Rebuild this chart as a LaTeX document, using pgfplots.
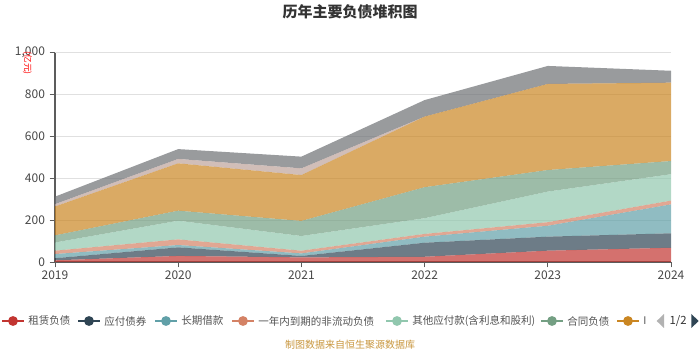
\documentclass[border=0pt]{standalone}
\usepackage{pgfplots}
\pgfplotsset{compat=1.18}
\usepackage{fontspec}
\setmainfont{Noto Sans CJK SC}
\definecolor{c1}{HTML}{C23531}
\definecolor{c2}{HTML}{2F4554}
\definecolor{c3}{HTML}{61A0A8}
\definecolor{c4}{HTML}{D48265}
\definecolor{c5}{HTML}{91C7AE}
\definecolor{c6}{HTML}{749F83}
\definecolor{c7}{HTML}{CA8622}
\definecolor{c8}{HTML}{BDA29A}
\definecolor{c9}{HTML}{6E7074}
\definecolor{txt}{HTML}{333333}
\definecolor{grid}{HTML}{E0E0E0}
\definecolor{src}{HTML}{C8963E}
\begin{document}
\begin{tikzpicture}
\path[use as bounding box] (0,0) rectangle (525pt,262.5pt);
\begin{axis}[
  at={(41.25pt,66pt)}, anchor=south west,
  scale only axis, width=462pt, height=157.1pt,
  xmin=2019, xmax=2024, ymin=0, ymax=1000,
  xtick={2019,2020,2021,2022,2023,2024},
  ytick={0,200,400,600,800,1000},
  stack plots=y,
  axis x line*=bottom, axis y line*=left,
  axis line style={draw=txt!80, line width=0.8pt},
  tick style={draw=txt!80, line width=0.6pt},
  major tick length=4pt,
  xtick pos=bottom, ytick pos=left,
  tick align=outside,
  ymajorgrids, grid style={draw=grid, line width=0.7pt},
  /pgf/number format/assume math mode=true,
  /pgf/number format/1000 sep={,},
  xticklabel style={/pgf/number format/1000 sep=, font=\fontsize{9}{10}\selectfont, text=txt!90, yshift=1pt},
  yticklabel style={font=\fontsize{9}{10}\selectfont, text=txt!90},
  every axis plot/.append style={draw=none, fill opacity=0.7},
  clip=false,
]
\addplot[fill=c1] coordinates {(2019,8) (2020,29) (2021,22) (2022,25) (2023,54) (2024,68)} \closedcycle;
\addplot[fill=c2] coordinates {(2019,10) (2020,41) (2021,7) (2022,67) (2023,67) (2024,69)} \closedcycle;
\addplot[fill=c3] coordinates {(2019,20) (2020,11) (2021,12) (2022,29) (2023,52) (2024,138)} \closedcycle;
\addplot[fill=c4] coordinates {(2019,16) (2020,27) (2021,13) (2022,13) (2023,17) (2024,18)} \closedcycle;
\addplot[fill=c5] coordinates {(2019,39) (2020,89) (2021,70) (2022,75) (2023,146) (2024,126)} \closedcycle;
\addplot[fill=c6] coordinates {(2019,34) (2020,48) (2021,72) (2022,148) (2023,103) (2024,63)} \closedcycle;
\addplot[fill=c7] coordinates {(2019,138) (2020,226) (2021,219) (2022,337) (2023,411) (2024,374)} \closedcycle;
\addplot[fill=c8] coordinates {(2019,11) (2020,21) (2021,32) (2022,0) (2023,0) (2024,0)} \closedcycle;
\addplot[fill=c9] coordinates {(2019,36) (2020,47) (2021,56) (2022,79) (2023,86) (2024,57)} \closedcycle;
\end{axis}
% title
\node[font=\fontsize{11.25}{13}\selectfont\bfseries, text=txt] at (262.5pt,253.5pt) {历年主要负债堆积图};
% unit
\node[font=\fontsize{6.5}{7}\selectfont, text=red, rotate=-90] at (20.5pt,215pt) {(亿元)};
% legend
\foreach \cx/\col/\lab in {13/c1/租赁负债, 89/c2/应付债券, 166/c3/长期借款, 243/c4/一年内到期的非流动负债, 397/c5/其他应付款(含利息和股利), 552/c6/合同负债, 628/c7/I}{
  \draw[\col, line width=1pt] ({(\cx-11)*0.75pt},21.75pt) -- ({(\cx+11)*0.75pt},21.75pt);
  \fill[\col] ({\cx*0.75pt},21.75pt) circle (3.7pt);
  \node[anchor=west, inner sep=0pt, font=\fontsize{7.9}{9}\selectfont, text=txt!85] at ({(\cx+15)*0.75pt},21.75pt) {\lab};
}
\fill[black!30] (492.5pt,21.75pt) -- (498pt,27pt) -- (498pt,16.5pt) -- cycle;
\node[font=\fontsize{8.5}{10}\selectfont, text=txt] at (502pt,21.75pt) [anchor=west, inner sep=0pt] {1/2};
\fill[c2] (518.5pt,27pt) -- (524pt,21.75pt) -- (518.5pt,16.5pt) -- cycle;
% source
\node[font=\fontsize{7.5}{8}\selectfont, text=src] at (262.5pt,3.75pt) {制图数据来自恒生聚源数据库};
\end{tikzpicture}
\end{document}
